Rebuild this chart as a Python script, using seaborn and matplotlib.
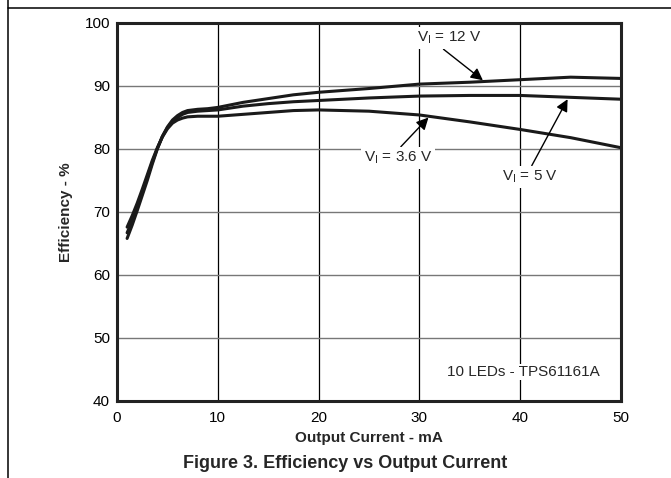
import pandas as pd
import matplotlib
matplotlib.use("Agg")
import matplotlib.pyplot as plt
from matplotlib.lines import Line2D
import seaborn as sns

sns.set_theme(style="white")
plt.rcParams["font.family"] = ["Liberation Sans", "DejaVu Sans"]

# efficiency curves
current_ma = [1, 1.5, 2, 2.5, 3, 3.5, 4, 4.5, 5, 5.5, 6, 6.5, 7, 8, 9, 10,
              12.5, 15, 17.5, 20, 25, 30, 35, 40, 45, 50]
eff_12v = [65.8, 67.9, 70.2, 72.6, 75.0, 77.6, 80.0, 82.0, 83.5, 84.6, 85.3, 85.8, 86.1,
           86.3, 86.4, 86.6, 87.4, 88.0, 88.6, 89.0, 89.6, 90.3, 90.6, 91.0, 91.4, 91.2]
eff_5v = [66.7, 68.6, 70.8, 73.1, 75.5, 77.9, 80.1, 82.0, 83.4, 84.4, 85.0, 85.5, 85.8,
          86.0, 86.1, 86.2, 86.8, 87.2, 87.5, 87.7, 88.1, 88.4, 88.5, 88.5, 88.2, 87.9]
eff_3v6 = [67.6, 69.4, 71.4, 73.6, 75.9, 78.2, 80.2, 81.9, 83.2, 84.1, 84.6, 84.9, 85.1,
           85.2, 85.2, 85.2, 85.5, 85.8, 86.1, 86.2, 86.0, 85.4, 84.3, 83.1, 81.8, 80.2]

df = pd.concat([
    pd.DataFrame({"current": current_ma, "eff": eff_12v, "vin": "12 V"}),
    pd.DataFrame({"current": current_ma, "eff": eff_5v, "vin": "5 V"}),
    pd.DataFrame({"current": current_ma, "eff": eff_3v6, "vin": "3.6 V"}),
])

fig = plt.figure(figsize=(6.71, 4.78), dpi=100)
ax = fig.add_axes([0.1744, 0.1611, 0.7511, 0.7908])

sns.lineplot(data=df, x="current", y="eff", units="vin", estimator=None,
             color="#1a1a1a", linewidth=2.2, legend=False, ax=ax)

ax.set_xlim(0, 50)
ax.set_ylim(40, 100)
ax.set_xticks([0, 10, 20, 30, 40, 50])
ax.set_yticks([40, 50, 60, 70, 80, 90, 100])
ax.tick_params(axis="both", length=0, labelsize=11, pad=5, colors="black")
ax.tick_params(axis="x", pad=7)

ax.grid(False)
for xv in [10, 20, 30, 40]:
    ax.axvline(xv, color="black", linewidth=0.9, zorder=0)
for yv in [50, 60, 70, 80, 90]:
    ax.axhline(yv, color="#777777", linewidth=1.0, zorder=0)

for sp in ax.spines.values():
    sp.set_visible(True)
    sp.set_color("#222222")
    sp.set_linewidth(2.2)

ax.set_xlabel("Output Current - mA", fontsize=11, fontweight="bold")
ax.set_ylabel("Efficiency - %", fontsize=11, fontweight="bold")
ax.xaxis.set_label_coords(0.5, -0.079)
ax.yaxis.set_label_coords(-0.087, 0.5)

box = dict(facecolor="white", edgecolor="none", pad=2)
arrow = dict(arrowstyle="-|>", color="black", lw=1.0, mutation_scale=18,
             shrinkA=0, shrinkB=0)

ax.annotate("V$_\\mathregular{I}$ = 12 V", xy=(36.3, 90.9), xytext=(33.0, 97.6),
            fontsize=11, ha="center", va="center", bbox=box,
            arrowprops=dict(arrow, relpos=(0.35, 0.0)))
ax.annotate("V$_\\mathregular{I}$ = 3.6 V", xy=(30.9, 85.0), xytext=(27.9, 78.6),
            fontsize=11, ha="center", va="center", bbox=box,
            arrowprops=dict(arrow, relpos=(0.5, 1.0)))
ax.annotate("V$_\\mathregular{I}$ = 5 V", xy=(44.7, 87.9), xytext=(41.0, 75.6),
            fontsize=11, ha="center", va="center", bbox=box,
            arrowprops=dict(arrow, relpos=(0.5, 1.0)))

ax.text(40.3, 44.6, "10 LEDs - TPS61161A", fontsize=11, ha="center", va="center",
        bbox=dict(facecolor="white", edgecolor="none", pad=1))

fig.text(0.514, 0.031, "Figure 3. Efficiency vs Output Current", fontsize=13,
         fontweight="bold", ha="center", va="center")

# page frame lines from the datasheet
fig.add_artist(Line2D([8 / 671, 8 / 671], [0, 1], color="black", lw=1.1))
fig.add_artist(Line2D([8 / 671, 1], [1 - 8 / 478, 1 - 8 / 478], color="black", lw=1.1))

fig.savefig("out.png", dpi=100)
